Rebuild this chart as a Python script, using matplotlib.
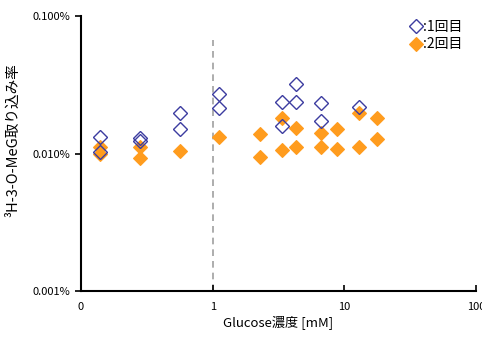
import matplotlib
matplotlib.use("Agg")
import matplotlib.pyplot as plt
from matplotlib.ticker import FixedLocator, FixedFormatter, NullLocator

plt.rcParams['font.family'] = ['Noto Sans CJK JP', 'DejaVu Sans']

# Series 1 (1回目) - open blue diamonds
x1 = [0.14, 0.14, 0.28, 0.28, 0.56, 0.56, 1.11, 1.11, 3.35, 3.35, 4.33, 4.33, 6.6, 6.6, 13.0]
y1 = [0.0132, 0.0103, 0.0130, 0.0123, 0.0196, 0.0151, 0.0271, 0.0213, 0.0236, 0.0158,
      0.0320, 0.0236, 0.0232, 0.0172, 0.0217]

# Series 2 (2回目) - filled orange diamonds
x2 = [0.14, 0.14, 0.28, 0.28, 0.56, 1.11, 2.27, 2.27, 3.35, 3.35, 4.33, 4.33, 6.6, 6.6,
      8.75, 8.75, 13.0, 13.0, 17.8, 17.8]
y2 = [0.0112, 0.0100, 0.0112, 0.00922, 0.0105, 0.0132, 0.0139, 0.00948, 0.0182, 0.0106,
      0.0154, 0.0111, 0.0142, 0.0112, 0.0150, 0.0108, 0.0198, 0.0111, 0.0181, 0.0127]

series_labels = [':1回目', ':2回目']
xticks = [0.1, 1, 10, 100]
xticklabels = ['0', '1', '10', '100']
yticks = [0.001, 0.01, 0.1]
yticklabels = ['0.001%', '0.010%', '0.100%']
threshold = 1.0

fig = plt.figure(figsize=(4.82, 3.40), dpi=100)
ax = fig.add_axes([81/482, 1-291/340, (476-81)/482, (291-16)/340])

ax.set_xscale('log')
ax.set_yscale('log')
ax.set_xlim(0.1, 100)
ax.set_ylim(0.001, 0.1)

ax.axvline(threshold, ymin=0, ymax=(291-40)/275, color='#a0a0a0', lw=1.2, ls=(0, (4, 3)), zorder=1)

ax.plot(x2, y2, ls='none', marker='D', ms=7.5, mfc='#ff9c1e', mec='#ff9c1e', mew=0.8,
        label=series_labels[1], zorder=3)
ax.plot(x1, y1, ls='none', marker='D', ms=7.5, mfc='none', mec='#3c3ca0', mew=1.0,
        label=series_labels[0], zorder=4)

ax.xaxis.set_major_locator(FixedLocator(xticks))
ax.xaxis.set_major_formatter(FixedFormatter(xticklabels))
ax.xaxis.set_minor_locator(NullLocator())
ax.yaxis.set_major_locator(FixedLocator(yticks))
ax.yaxis.set_major_formatter(FixedFormatter(yticklabels))
ax.yaxis.set_minor_locator(NullLocator())

ax.tick_params(axis='x', direction='in', length=4, width=1.2, labelsize=8, pad=8)
ax.tick_params(axis='y', direction='out', length=4, width=1.2, labelsize=8, pad=4)

for s in ['top', 'right']:
    ax.spines[s].set_visible(False)
for s in ['left', 'bottom']:
    ax.spines[s].set_linewidth(1.5)

ax.set_xlabel('Glucose濃度 [mM]', fontsize=9.5, labelpad=2)
ax.set_ylabel('³H-3-O-MeG取り込み率', fontsize=10.5)
ax.yaxis.set_label_coords((20-81)/395, (291-140)/275)

h, l = ax.get_legend_handles_labels()
ax.legend(h[::-1], l[::-1], loc='upper left', bbox_to_anchor=(410/482, 1-20/340),
          bbox_transform=fig.transFigure, frameon=False, handlelength=0.8,
          handletextpad=0.1, labelspacing=0.25, fontsize=10, borderaxespad=0, borderpad=0)

fig.savefig('out.png', dpi=100)
